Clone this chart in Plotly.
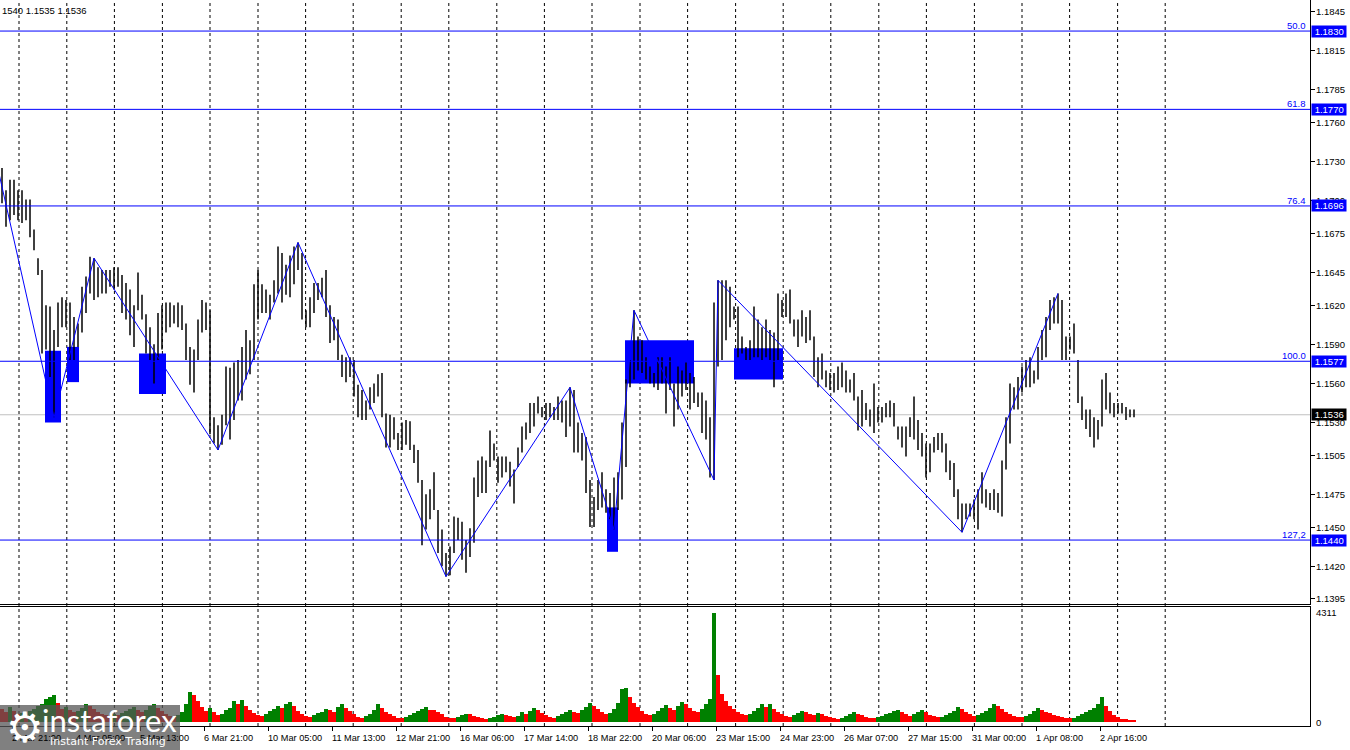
import plotly.graph_objects as go

# H2-style bars (each bar = 2 hours)
bar_high = [
    1.1725, 1.1708, 1.1716, 1.1716, 1.1708, 1.1708, 1.1701, 1.1701, 1.1678, 1.1656,
    1.1647, 1.1620, 1.1619, 1.1601, 1.1622, 1.1626, 1.1624, 1.1622, 1.1611, 1.1606,
    1.1634, 1.1642, 1.1657, 1.1656, 1.1649, 1.1647, 1.1647, 1.1647, 1.1649, 1.1649,
    1.1643, 1.1637, 1.1632, 1.1620, 1.1645, 1.1628, 1.1613, 1.1603, 1.1590, 1.1614,
    1.1620, 1.1622, 1.1622, 1.1620, 1.1622, 1.1620, 1.1606, 1.1588, 1.1586, 1.1609,
    1.1624, 1.1622, 1.1616, 1.1534, 1.1528, 1.1536, 1.1573, 1.1572, 1.1576, 1.1578,
    1.1588, 1.1601, 1.1593, 1.1636, 1.1647, 1.1636, 1.1632, 1.1628, 1.1639, 1.1665,
    1.1660, 1.1651, 1.1658, 1.1665, 1.1668, 1.1660, 1.1616, 1.1626, 1.1637, 1.1637,
    1.1641, 1.1647, 1.1620, 1.1611, 1.1609, 1.1582, 1.1580, 1.1580, 1.1578, 1.1559,
    1.1555, 1.1547, 1.1557, 1.1560, 1.1567, 1.1568, 1.1537, 1.1536, 1.1534, 1.1522,
    1.1530, 1.1532, 1.1531, 1.1513, 1.1509, 1.1486, 1.1475, 1.1479, 1.1492, 1.1463,
    1.1448, 1.1430, 1.1435, 1.1458, 1.1457, 1.1454, 1.1440, 1.1449, 1.1488, 1.1501,
    1.1504, 1.1501, 1.1524, 1.1514, 1.1504, 1.1504, 1.1504, 1.1500, 1.1494, 1.1511,
    1.1527, 1.1530, 1.1545, 1.1545, 1.1550, 1.1542, 1.1545, 1.1545, 1.1542, 1.1550,
    1.1547, 1.1547, 1.1557, 1.1555, 1.1530, 1.1522, 1.1519, 1.1486, 1.1473, 1.1486,
    1.1492, 1.1479, 1.1476, 1.1488, 1.1492, 1.1530, 1.1563, 1.1578, 1.1616, 1.1596,
    1.1593, 1.1580, 1.1573, 1.1568, 1.1580, 1.1580, 1.1573, 1.1580, 1.1560, 1.1573,
    1.1570, 1.1576, 1.1568, 1.1565, 1.1553, 1.1553, 1.1547, 1.1534, 1.1622, 1.1639,
    1.1639, 1.1639, 1.1634, 1.1619, 1.1619, 1.1596, 1.1588, 1.1593, 1.1619, 1.1609,
    1.1603, 1.1609, 1.1601, 1.1599, 1.1629, 1.1624, 1.1629, 1.1632, 1.1609, 1.1609,
    1.1616, 1.1611, 1.1616, 1.1596, 1.1580, 1.1583, 1.1570, 1.1568, 1.1568, 1.1573,
    1.1576, 1.1570, 1.1563, 1.1568, 1.1550, 1.1555, 1.1545, 1.1540, 1.1560, 1.1542,
    1.1542, 1.1545, 1.1547, 1.1545, 1.1527, 1.1527, 1.1527, 1.1534, 1.1550, 1.1532,
    1.1522, 1.1514, 1.1514, 1.1519, 1.1522, 1.1522, 1.1514, 1.1501, 1.1499, 1.1479,
    1.1468, 1.1468, 1.1468, 1.1471, 1.1479, 1.1492, 1.1479, 1.1476, 1.1479, 1.1476,
    1.1501, 1.1534, 1.1560, 1.1557, 1.1565, 1.1573, 1.1578, 1.1580, 1.1570, 1.1588,
    1.1601, 1.1611, 1.1624, 1.1626, 1.1629, 1.1624, 1.1596, 1.1596, 1.1606, 1.1578,
    1.1550, 1.1540, 1.1540, 1.1534, 1.1532, 1.1563, 1.1568, 1.1553, 1.1545, 1.1545,
    1.1545, 1.1542, 1.1540, 1.1540,
]
bar_low = [
    1.1698, 1.1680, 1.1685, 1.1689, 1.1685, 1.1683, 1.1685, 1.1672, 1.1662, 1.1643,
    1.1583, 1.1586, 1.1565, 1.1534, 1.1588, 1.1603, 1.1603, 1.1578, 1.1578, 1.1588,
    1.1599, 1.1614, 1.1629, 1.1624, 1.1626, 1.1629, 1.1629, 1.1634, 1.1632, 1.1634,
    1.1614, 1.1609, 1.1597, 1.1588, 1.1616, 1.1609, 1.1583, 1.1578, 1.1560, 1.1578,
    1.1586, 1.1599, 1.1603, 1.1606, 1.1603, 1.1601, 1.1578, 1.1559, 1.1553, 1.1578,
    1.1599, 1.1601, 1.1521, 1.1514, 1.1509, 1.1513, 1.1528, 1.1517, 1.1532, 1.1547,
    1.1547, 1.1563, 1.1567, 1.1578, 1.1609, 1.1614, 1.1614, 1.1609, 1.1622, 1.1629,
    1.1622, 1.1628, 1.1626, 1.1636, 1.1647, 1.1609, 1.1603, 1.1603, 1.1614, 1.1624,
    1.1626, 1.1611, 1.1591, 1.1593, 1.1578, 1.1565, 1.1561, 1.1565, 1.1550, 1.1534,
    1.1532, 1.1532, 1.1540, 1.1545, 1.1550, 1.1534, 1.1511, 1.1511, 1.1517, 1.1509,
    1.1509, 1.1513, 1.1509, 1.1499, 1.1484, 1.1436, 1.1448, 1.1456, 1.1463, 1.1430,
    1.1420, 1.1412, 1.1413, 1.1430, 1.1440, 1.1425, 1.1415, 1.1427, 1.1438, 1.1473,
    1.1476, 1.1476, 1.1496, 1.1501, 1.1484, 1.1488, 1.1492, 1.1481, 1.1468, 1.1496,
    1.1507, 1.1517, 1.1522, 1.1527, 1.1537, 1.1534, 1.1532, 1.1534, 1.1532, 1.1532,
    1.1530, 1.1519, 1.1527, 1.1507, 1.1507, 1.1501, 1.1476, 1.1450, 1.1450, 1.1463,
    1.1465, 1.1461, 1.1456, 1.1448, 1.1463, 1.1471, 1.1496, 1.1557, 1.1563, 1.1570,
    1.1568, 1.1563, 1.1560, 1.1557, 1.1555, 1.1560, 1.1537, 1.1555, 1.1527, 1.1540,
    1.1550, 1.1555, 1.1540, 1.1545, 1.1542, 1.1522, 1.1517, 1.1488, 1.1486, 1.1573,
    1.1578, 1.1593, 1.1603, 1.1609, 1.1580, 1.1583, 1.1578, 1.1578, 1.1580, 1.1580,
    1.1578, 1.1580, 1.1578, 1.1557, 1.1578, 1.1611, 1.1611, 1.1606, 1.1596, 1.1588,
    1.1596, 1.1591, 1.1593, 1.1565, 1.1557, 1.1563, 1.1557, 1.1555, 1.1553, 1.1555,
    1.1557, 1.1553, 1.1553, 1.1547, 1.1524, 1.1527, 1.1532, 1.1527, 1.1522, 1.1530,
    1.1530, 1.1534, 1.1534, 1.1527, 1.1517, 1.1511, 1.1504, 1.1519, 1.1517, 1.1509,
    1.1504, 1.1488, 1.1492, 1.1507, 1.1509, 1.1507, 1.1492, 1.1486, 1.1473, 1.1456,
    1.1446, 1.1456, 1.1458, 1.1456, 1.1448, 1.1468, 1.1465, 1.1463, 1.1463, 1.1461,
    1.1458, 1.1494, 1.1514, 1.1540, 1.1540, 1.1553, 1.1557, 1.1557, 1.1560, 1.1563,
    1.1578, 1.1580, 1.1601, 1.1606, 1.1606, 1.1578, 1.1578, 1.1586, 1.1583, 1.1545,
    1.1532, 1.1525, 1.1519, 1.1511, 1.1517, 1.1527, 1.1540, 1.1537, 1.1534, 1.1537,
    1.1537, 1.1532, 1.1534, 1.1534,
]
volume = [
    500, 380, 600, 420, 300, 350, 280, 450, 520, 640, 700, 900,
    1000, 1080, 760, 520, 600, 480, 380, 420, 560, 700, 640, 500,
    380, 300, 260, 220, 320, 280, 360, 420, 520, 600, 460, 380,
    480, 620, 700, 560, 420, 300, 240, 200, 260, 380, 700, 1200,
    1080, 820, 600, 420, 560, 380, 260, 300, 480, 560, 820, 700,
    880, 640, 480, 360, 260, 220, 300, 420, 520, 640, 560, 720,
    800, 620, 420, 300, 220, 180, 260, 340, 400, 520, 480, 380,
    600, 720, 560, 420, 300, 200, 160, 240, 320, 480, 720, 560,
    400, 300, 220, 160, 140, 180, 260, 340, 420, 520, 600, 480,
    460, 380, 300, 200, 160, 140, 200, 260, 320, 300, 240, 200,
    160, 120, 140, 200, 260, 320, 280, 220, 180, 240, 380, 300,
    420, 540, 480, 360, 260, 200, 160, 240, 300, 380, 460, 400,
    360, 480, 600, 760, 640, 520, 400, 300, 360, 520, 760, 1300,
    1350, 980, 760, 600, 440, 320, 260, 300, 420, 560, 680, 540,
    480, 620, 780, 700, 540, 420, 380, 520, 700, 900, 4311, 1860,
    1100, 820, 640, 520, 400, 320, 260, 300, 420, 560, 720, 600,
    700, 520, 400, 300, 240, 200, 260, 340, 420, 380, 300, 260,
    360, 300, 220, 180, 140, 120, 160, 240, 320, 380, 320, 260,
    200, 160, 140, 180, 240, 300, 360, 420, 480, 380, 300, 240,
    300, 400, 480, 380, 280, 220, 180, 200, 280, 360, 440, 600,
    520, 400, 300, 220, 260, 340, 420, 560, 700, 620, 500, 380,
    300, 240, 200, 180, 220, 300, 420, 560, 480, 400, 340, 280,
    220, 180, 160, 140, 160, 220, 300, 380, 460, 560, 700, 1000,
    640, 420, 260, 180, 120, 100, 80, 60,
]

# zigzag pivots (bar index, price)
zigzag_bar = [-1.5, 13, 23, 54, 74, 111, 142, 153, 158, 178, 179, 240, 264]
zigzag_price = [1.1731, 1.1534, 1.1656, 1.1509, 1.1668, 1.1412, 1.1557,
                1.1448, 1.1616, 1.1486, 1.1639, 1.1446, 1.1629]

# blue zones
zone_start = [10.75, 16.25, 34.25, 151.25, 155.75, 183]
zone_end = [14.75, 19.25, 41, 154, 173, 195.25]
zone_top = [1.1585, 1.1588, 1.1583, 1.1465, 1.1593, 1.1587]
zone_bottom = [1.1530, 1.1561, 1.1552, 1.1431, 1.1560, 1.1563]

fib_prices = [1.1830, 1.1770, 1.1696, 1.1577, 1.1440]
fib_names = ["50.0", "61.8", "76.4", "100.0", "127,2"]
last_price = 1.1536

price_ticks = [1.1845, 1.1815, 1.1785, 1.1760, 1.1730, 1.1700, 1.1675, 1.1645,
               1.1620, 1.1590, 1.1560, 1.1530, 1.1505, 1.1475, 1.1450, 1.1420, 1.1395]

time_tick_bar = [2.5, 18.5, 34.5, 50.5, 66.5, 82.5, 98.5, 114.5, 130.5, 146.5,
                 162.5, 178.5, 194.5, 210.5, 226.5, 242.5, 258.5, 274.5]
time_labels = ["2 Mar 21:00", "4 Mar 05:00", "5 Mar 13:00", "6 Mar 21:00",
               "10 Mar 05:00", "11 Mar 13:00", "12 Mar 21:00", "16 Mar 06:00",
               "17 Mar 14:00", "18 Mar 22:00", "20 Mar 06:00", "23 Mar 15:00",
               "24 Mar 23:00", "26 Mar 07:00", "27 Mar 15:00", "31 Mar 00:00",
               "1 Apr 08:00", "2 Apr 16:00"]

# daily separators (bar index)
grid_bar = [4.25, 16.2, 28.1, 40.1, 52.0, 64.0, 75.9, 87.8, 99.8, 111.7, 123.7,
            135.6, 147.5, 159.5, 171.4, 183.4, 195.3, 207.2, 219.2, 231.1, 243.1,
            255.0, 266.9, 278.9, 290.8]

FONT = "Liberation Sans"
BLUE = "#0000ff"
FS = 9.5

bx, by = [], []
for i, (h, l) in enumerate(zip(bar_high, bar_low)):
    bx += [i, i, None]
    by += [l, h, None]

vol_colors = ["#008000" if i > 0 and v > volume[i - 1] else "#ff0000"
              for i, v in enumerate(volume)]

fig = go.Figure()
fig.add_trace(go.Scatter(x=bx, y=by, mode="lines", line=dict(color="black", width=1.5),
                         hoverinfo="skip", xaxis="x", yaxis="y"))
fig.add_trace(go.Scatter(x=zigzag_bar, y=zigzag_price, mode="lines",
                         line=dict(color=BLUE, width=1), xaxis="x", yaxis="y"))
fig.add_trace(go.Bar(x=list(range(len(volume))), y=volume, marker_color=vol_colors,
                     marker_line_width=0, width=0.8, xaxis="x2", yaxis="y2"))

shapes = []
for g in grid_bar:
    shapes.append(dict(type="line", xref="x", yref="paper", x0=g, x1=g, y0=0, y1=1,
                       line=dict(color="black", width=1, dash="3px,3px"), layer="below"))
for s, e, t, b in zip(zone_start, zone_end, zone_top, zone_bottom):
    shapes.append(dict(type="rect", xref="x", yref="y", x0=s, x1=e, y0=b, y1=t,
                       fillcolor=BLUE, line=dict(width=0), layer="below"))
for p in fib_prices:
    shapes.append(dict(type="line", xref="paper", yref="y", x0=0, x1=1, y0=p, y1=p,
                       line=dict(color=BLUE, width=1)))
shapes.append(dict(type="line", xref="paper", yref="y", x0=0, x1=1, y0=last_price,
                   y1=last_price, line=dict(color="#c0c0c0", width=1), layer="below"))
# watermark box
shapes.append(dict(type="rect", xref="paper", yref="paper", x0=0, x1=180 / 1310,
                   y0=-24 / 726, y1=21 / 726, fillcolor="rgba(85,85,85,0.75)",
                   line=dict(width=0)))

ann = []
# price axis labels (left aligned next to the ticks)
for t in price_ticks:
    ann.append(dict(xref="paper", yref="y", x=1, y=t, xanchor="left", yanchor="middle",
                    xshift=4, text=f"{t:.4f}", showarrow=False,
                    font=dict(family=FONT, size=FS, color="black")))
for p, n in zip(fib_prices, fib_names):
    ann.append(dict(xref="paper", yref="y", x=1, y=p, xanchor="right", yanchor="bottom",
                    xshift=-2, yshift=-2, text=n, showarrow=False,
                    font=dict(family=FONT, size=FS, color=BLUE)))
    ann.append(dict(xref="paper", yref="y", x=1, y=p, xanchor="left", yanchor="middle",
                    xshift=1, text=f" {p:.4f} ", showarrow=False, bgcolor=BLUE,
                    borderpad=0, font=dict(family=FONT, size=FS, color="white")))
ann.append(dict(xref="paper", yref="y", x=1, y=last_price, xanchor="left", yanchor="middle",
                xshift=1, text=f" {last_price:.4f} ", showarrow=False, bgcolor="black",
                borderpad=0, font=dict(family=FONT, size=FS, color="white")))
# volume axis labels
ann.append(dict(xref="paper", yref="y2", x=1, y=4311, xanchor="left", yanchor="middle",
                xshift=4, text="4311", showarrow=False,
                font=dict(family=FONT, size=FS, color="black")))
ann.append(dict(xref="paper", yref="y2", x=1, y=0, xanchor="left", yanchor="middle",
                xshift=4, text="0", showarrow=False,
                font=dict(family=FONT, size=FS, color="black")))
# time labels (start at the tick, like the terminal)
for b, lab in zip(time_tick_bar, time_labels):
    ann.append(dict(xref="x2", yref="paper", x=b, y=0, xanchor="left", yanchor="middle",
                    xshift=-2, yshift=-12, text=lab, showarrow=False,
                    font=dict(family=FONT, size=9.2, color="black")))
ann.append(dict(xref="paper", yref="paper", x=0, y=1, xanchor="left", yanchor="top",
                yshift=-3, text="1540 1.1535 1.1536", showarrow=False,
                font=dict(family=FONT, size=FS, color="black")))
# watermark
ann.append(dict(xref="paper", yref="paper", x=4 / 1310, y=-1 / 726, xanchor="left",
                yanchor="middle", text="⚙", showarrow=False,
                font=dict(family="DejaVu Sans", size=42, color="white")))
ann.append(dict(xref="paper", yref="paper", x=40 / 1310, y=6 / 726, xanchor="left",
                yanchor="middle", text="instaforex", showarrow=False,
                font=dict(family="Lato, DejaVu Sans", size=31, color="white")))
ann.append(dict(xref="paper", yref="paper", x=48 / 1310, y=-15 / 726, xanchor="left",
                yanchor="middle", text="Instant Forex Trading", showarrow=False,
                font=dict(family="DejaVu Sans", size=11, color="white")))

fig.update_layout(
    width=1350, height=750,
    margin=dict(l=0, r=40, t=0, b=24, autoexpand=False),
    paper_bgcolor="white", plot_bgcolor="white",
    showlegend=False, bargap=0,
    shapes=shapes, annotations=ann,
    xaxis=dict(domain=[0, 1], anchor="y", range=[-0.5, 327], showgrid=False,
               zeroline=False, showticklabels=False, showline=True,
               linecolor="black", linewidth=1, automargin=False),
    xaxis2=dict(domain=[0, 1], anchor="y2", matches="x", range=[-0.5, 327],
                showgrid=False, zeroline=False, showline=True, mirror=True,
                linecolor="black", linewidth=1, ticks="outside", ticklen=4,
                tickcolor="black", tickvals=time_tick_bar, showticklabels=False,
                automargin=False),
    yaxis=dict(domain=[122 / 726, 1], side="right", range=[1.13910, 1.18538],
               showgrid=False, zeroline=False, showline=True, linecolor="black",
               linewidth=1, ticks="outside", ticklen=4, tickcolor="black",
               tickvals=price_ticks, showticklabels=False, automargin=False),
    yaxis2=dict(domain=[0, 119 / 726], side="right", range=[-158, 4548],
                showgrid=False, zeroline=False, showline=True, linecolor="black",
                linewidth=1, ticks="", showticklabels=False, automargin=False),
)

# the page's default body margin would shift the chart by 8px
fig.write_html("out.html", config={"displayModeBar": False},
               post_script="document.body.style.margin='0px';")
